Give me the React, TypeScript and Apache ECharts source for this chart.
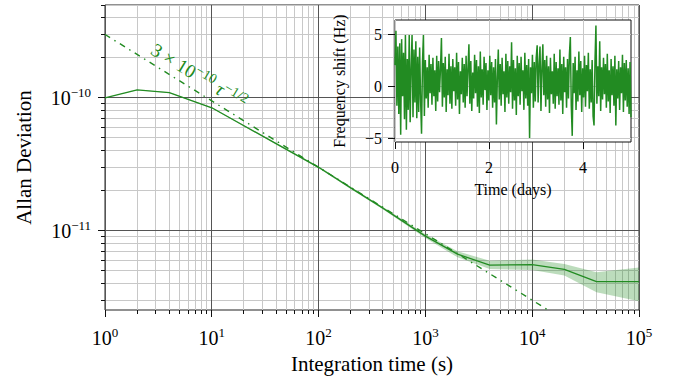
import React, { useEffect, useRef } from 'react';
import * as echarts from 'echarts';

const GREEN = '#228B22';
const BAND = 'rgba(34,139,34,0.3)';
const FONT = 'Liberation Serif';

// ---- Allan deviation (main plot) ----
const tauSeconds = [1, 2, 4, 10, 20, 40, 100, 200, 400, 1000, 2000, 4000, 10000, 20000, 40000, 100000];
const allanDev = [1.0e-10, 1.147e-10, 1.095e-10, 8.42e-11, 6.17e-11, 4.52e-11, 3.0e-11, 2.1e-11, 1.48e-11, 9.1e-12, 6.66e-12, 5.51e-12, 5.55e-12, 5.12e-12, 4.14e-12, 4.14e-12];
const allanUpper = [1.0e-10, 1.152e-10, 1.1e-10, 8.5e-11, 6.25e-11, 4.58e-11, 3.05e-11, 2.14e-11, 1.51e-11, 9.4e-12, 7.0e-12, 5.94e-12, 6.08e-12, 5.62e-12, 4.86e-12, 5.29e-12];
const allanLower = [1.0e-10, 1.142e-10, 1.09e-10, 8.34e-11, 6.1e-11, 4.46e-11, 2.95e-11, 2.06e-11, 1.45e-11, 8.8e-12, 6.3e-12, 5.14e-12, 5.06e-12, 4.6e-12, 3.44e-12, 2.95e-12];

// fit line 3e-10 * tau^-1/2 (end points)
const fitTau = [1, 100000];
const fitDev = [3e-10, 9.49e-13];

// axes
const X_MIN = 1;
const X_MAX = 1e5;
const Y_MIN = 2.53e-12;
const Y_MAX = 5e-10;
const xMajorTicks = [1, 10, 100, 1000, 10000, 100000];
const yMajorTicks = [1e-11, 1e-10];
const mantissas = [2, 3, 4, 5, 6, 7, 8, 9];
const xDecades = [1, 10, 100, 1000, 10000];
const xMinorTicks = xDecades.flatMap((d) => mantissas.map((m) => m * d));
const yMinorTicks = [3e-12, 4e-12, 5e-12, 6e-12, 7e-12, 8e-12, 9e-12,
  2e-11, 3e-11, 4e-11, 5e-11, 6e-11, 7e-11, 8e-11, 9e-11,
  2e-10, 3e-10, 4e-10, 5e-10];

// ---- Inset: frequency shift vs time ----
const INSET_X_MIN = 0;
const INSET_X_MAX = 5.02;
const INSET_Y_MIN = -5.29;
const INSET_Y_MAX = 6.44;
const SAMPLE_DAYS = 5.02 / 249;
const freqShift = [
  2.1, 5.4, -1.8, 3.9, -2.6, 4.2, -4.6, 4.6, -0.9, 3.3,
  -3.1, 5.0, -4.1, 2.7, -2.2, 5.0, -3.4, 1.8, 5.0, -2.9,
  3.6, -1.5, 4.4, -3.0, 2.9, -2.4, 3.8, -1.2, -4.5, 2.4,
  5.0, -2.8, 2.6, -1.1, 1.9, -2.0, 3.1, -0.6, 2.2, -1.7,
  2.8, -0.9, 1.6, -2.3, 3.0, -1.4, 2.5, -0.5, 1.8, 4.7,
  -1.9, 2.3, -1.0, 2.9, -2.4, 1.7, -0.8, 3.2, -1.6, 2.0,
  -2.1, 2.7, -0.4, 1.9, -1.8, 3.3, -1.2, 2.4, -2.6, 1.5,
  -0.7, 2.8, -1.5, 2.2, -2.0, 3.0, -0.9, 1.8, 4.1, -1.6,
  2.5, -2.3, 1.4, -1.1, 3.1, -0.6, 2.6, -1.9, 2.0, -2.5,
  3.4, -1.0, 1.7, -1.7, 2.9, -0.3, 2.3, -2.2, 1.6, -1.3,
  3.0, -0.8, 2.4, -2.0, 1.9, -1.5, 2.7, -3.6, 0.9, 3.6,
  -1.2, 2.2, -1.8, 2.8, -0.7, 1.5, -2.4, 3.2, -1.0, 2.5,
  -1.6, 2.0, -0.5, 4.3, -2.1, 2.6, -1.3, 1.8, -2.7, 3.0,
  -0.9, 2.3, -1.7, 2.9, -0.4, 1.6, -2.2, 3.3, -1.1, 2.1,
  -1.8, 2.7, -4.9, 1.9, -0.6, 3.1, -2.0, 2.4, -1.4, 2.8,
  4.0, -1.5, 2.2, 3.9, -2.3, 1.7, 4.1, -0.8, 2.6, -1.9,
  3.0, -1.2, 2.0, -2.5, 2.8, -0.7, 1.5, -1.6, 3.2, -2.1,
  2.4, -0.9, 1.8, -1.7, 3.6, -1.3, 2.2, -2.6, 2.9, -0.5,
  1.9, -2.0, 2.7, -1.1, 3.1, 4.8, -1.8, -4.7, 2.3, -0.6,
  2.9, -2.2, 1.6, -1.4, 3.4, -0.8, 2.5, -2.4, 1.8, -1.0,
  3.0, -1.9, 2.1, -0.4, 3.3, -2.1, 1.7, -1.5, 2.6, -2.8,
  -3.7, 2.4, 5.9, -1.6, 2.0, -0.9, 4.4, -2.3, 1.9, -1.2,
  2.8, -0.7, 2.2, -2.0, 3.2, -1.4, 1.6, -2.5, 2.7, -0.8,
  2.0, -1.8, 3.0, -3.7, 1.7, -1.1, 2.5, -2.2, 1.9, -0.6,
  3.1, -2.4, 2.3, -1.3, 2.6, -1.9, 1.8, -2.6, 2.4, -2.9,
];
const insetXTicks = [0, 2, 4];
const insetYTicks = [-5, 0, 5];

const MINUS = '\u2212';

function pow10Label(v: number): string {
  const e = Math.log10(v);
  const k = Math.round(e);
  if (Math.abs(e - k) > 1e-6) return '';
  return `{b|10}{s|${k < 0 ? MINUS + -k : k}}`;
}

function plainLabel(v: number): string {
  if (Math.abs(v - Math.round(v)) > 1e-9) return '';
  if (v === 0) return '0';
  return v < 0 ? MINUS + -v : String(v);
}

const powRich = {
  b: { fontSize: 20, fontFamily: FONT, lineHeight: 24, color: '#000' },
  s: { fontSize: 13, fontFamily: FONT, lineHeight: 14, verticalAlign: 'top', color: '#000' },
};

const snap = (v: number) => Math.round(v - 0.5) + 0.5;

function vLines(values: number[], color: string, tickLen: number, axisIdx: number, yLo: number, yHi: number, z: number) {
  return {
    type: 'custom',
    xAxisIndex: axisIdx,
    yAxisIndex: axisIdx,
    z,
    silent: true,
    clip: false,
    data: values.map((v) => [v, yLo]),
    renderItem: (_p: any, api: any) => {
      const x = api.value(0);
      const b = api.coord([x, yLo]);
      const t = api.coord([x, yHi]);
      const xs = snap(b[0]);
      return {
        type: 'group',
        children: [
          { type: 'line', shape: { x1: xs, y1: b[1], x2: xs, y2: t[1] }, style: { stroke: color, lineWidth: 1 } },
          { type: 'line', shape: { x1: xs, y1: b[1], x2: xs, y2: b[1] + tickLen }, style: { stroke: '#111', lineWidth: 1 } },
        ],
      };
    },
  };
}

function hLines(values: number[], color: string, tickLen: number, axisIdx: number, xLo: number, xHi: number, z: number) {
  return {
    type: 'custom',
    xAxisIndex: axisIdx,
    yAxisIndex: axisIdx,
    z,
    silent: true,
    clip: false,
    data: values.map((v) => [xLo, v]),
    renderItem: (_p: any, api: any) => {
      const y = api.value(1);
      const l = api.coord([xLo, y]);
      const r = api.coord([xHi, y]);
      const ys = snap(l[1]);
      return {
        type: 'group',
        children: [
          { type: 'line', shape: { x1: l[0], y1: ys, x2: r[0], y2: ys }, style: { stroke: color, lineWidth: 1 } },
          { type: 'line', shape: { x1: l[0] - tickLen, y1: ys, x2: l[0], y2: ys }, style: { stroke: '#111', lineWidth: 1 } },
        ],
      };
    },
  };
}

const option: any = {
  animation: false,
  backgroundColor: '#fff',
  textStyle: { fontFamily: FONT },
  grid: [
    { left: 105, top: 5, width: 534, height: 308, show: true, borderColor: '#222', borderWidth: 1, backgroundColor: 'transparent', z: 0 },
    { left: 395, top: 20, width: 236, height: 122, show: true, borderColor: '#111', borderWidth: 1, backgroundColor: '#fff', z: 10 },
  ],
  xAxis: [
    {
      type: 'log', logBase: 10, gridIndex: 0, min: X_MIN, max: X_MAX, z: 2,
      axisLine: { show: false }, axisTick: { show: false }, splitLine: { show: false },
      axisLabel: { formatter: pow10Label, rich: powRich, margin: 16, interval: 0, color: '#000' },
      name: 'Integration time (s)', nameLocation: 'middle', nameGap: 43,
      nameTextStyle: { fontSize: 21, fontFamily: FONT, color: '#000' },
    },
    {
      type: 'value', gridIndex: 1, min: INSET_X_MIN, max: INSET_X_MAX, interval: 2, z: 11,
      axisLine: { show: false },
      axisTick: { show: false },
      axisLabel: { customValues: insetXTicks, formatter: plainLabel, fontSize: 16, fontFamily: FONT, margin: 17, color: '#000' },
      splitLine: { show: false },
      name: 'Time (days)', nameLocation: 'middle', nameGap: 39,
      nameTextStyle: { fontSize: 16, fontFamily: FONT, color: '#000' },
    },
  ],
  yAxis: [
    {
      type: 'log', logBase: 10, gridIndex: 0, min: Y_MIN, max: Y_MAX, z: 2,
      axisLine: { show: false }, axisTick: { show: false }, splitLine: { show: false },
      axisLabel: { formatter: pow10Label, rich: powRich, margin: 14, interval: 0, color: '#000' },
      name: 'Allan Deviation', nameLocation: 'middle', nameGap: 71,
      nameTextStyle: { fontSize: 21, fontFamily: FONT, color: '#000' },
    },
    {
      type: 'value', gridIndex: 1, min: INSET_Y_MIN, max: INSET_Y_MAX, splitNumber: 2, z: 11,
      axisLine: { show: false },
      axisTick: { show: false },
      axisLabel: { customValues: insetYTicks, formatter: plainLabel, fontSize: 16, fontFamily: FONT, margin: 13, color: '#000' },
      splitLine: { show: false },
      name: 'Frequency shift (Hz)', nameLocation: 'middle', nameGap: 48,
      nameTextStyle: { fontSize: 16, fontFamily: FONT, color: '#000' },
    },
  ],
  graphic: [
    {
      type: 'text', x: 199, y: 76, rotation: -0.545, z: 5, silent: true,
      style: {
        text: `{a|3 × 10}{s|${MINUS}10}{t| τ}{s|${MINUS}1/2}`,
        align: 'center', verticalAlign: 'middle', fill: GREEN,
        rich: {
          a: { fontSize: 19, fontFamily: FONT, lineHeight: 24, fill: GREEN, color: GREEN },
          t: { fontSize: 19, fontFamily: FONT, fontStyle: 'italic', lineHeight: 24, fill: GREEN, color: GREEN },
          s: { fontSize: 14, fontFamily: FONT, lineHeight: 14, verticalAlign: 'top', fill: GREEN, color: GREEN },
        },
      },
    },
  ],
  series: [
    vLines(xMinorTicks, '#c8c8c8', 4, 0, Y_MIN, Y_MAX, 1),
    hLines(yMinorTicks, '#c8c8c8', 4, 0, X_MIN, X_MAX, 1),
    vLines(xMajorTicks, '#555', 7, 0, Y_MIN, Y_MAX, 1),
    hLines(yMajorTicks, '#555', 7, 0, X_MIN, X_MAX, 1),
    vLines(insetXTicks, '#c8c8c8', 7, 1, INSET_Y_MIN, INSET_Y_MAX, 11),
    hLines(insetYTicks, '#c8c8c8', 7, 1, INSET_X_MIN, INSET_X_MAX, 11),
    {
      type: 'custom', xAxisIndex: 0, yAxisIndex: 0, z: 2, silent: true,
      data: [[tauSeconds[0], allanDev[0]]],
      renderItem: (_p: any, api: any) => {
        const pts: number[][] = [];
        for (let i = 0; i < tauSeconds.length; i++) pts.push(api.coord([tauSeconds[i], allanUpper[i]]));
        for (let i = tauSeconds.length - 1; i >= 0; i--) pts.push(api.coord([tauSeconds[i], allanLower[i]]));
        return { type: 'polygon', shape: { points: pts }, style: { fill: BAND } };
      },
    },
    {
      type: 'line', xAxisIndex: 0, yAxisIndex: 0, z: 3, showSymbol: false, silent: true,
      data: tauSeconds.map((t, i) => [t, allanDev[i]]),
      lineStyle: { color: GREEN, width: 1.3 },
    },
    {
      type: 'line', xAxisIndex: 0, yAxisIndex: 0, z: 3, showSymbol: false, silent: true, clip: true,
      data: fitTau.map((t, i) => [t, fitDev[i]]),
      lineStyle: { color: GREEN, width: 1.4, type: [6, 5, 1.5, 5] },
    },
    {
      type: 'line', xAxisIndex: 1, yAxisIndex: 1, z: 12, showSymbol: false, silent: true,
      data: freqShift.map((v, i) => [i * SAMPLE_DAYS, v]),
      lineStyle: { color: GREEN, width: 1.5 },
    },
  ],
};

export default function App() {
  const ref = useRef<HTMLDivElement>(null);
  useEffect(() => {
    const chart = echarts.init(ref.current as HTMLDivElement, null, { renderer: 'svg' });
    chart.setOption(option);
    return () => chart.dispose();
  }, []);
  return (
    <div
      ref={ref}
      style={{ position: 'fixed', left: 0, top: 0, width: 673, height: 379, background: '#fff' }}
    />
  );
}
